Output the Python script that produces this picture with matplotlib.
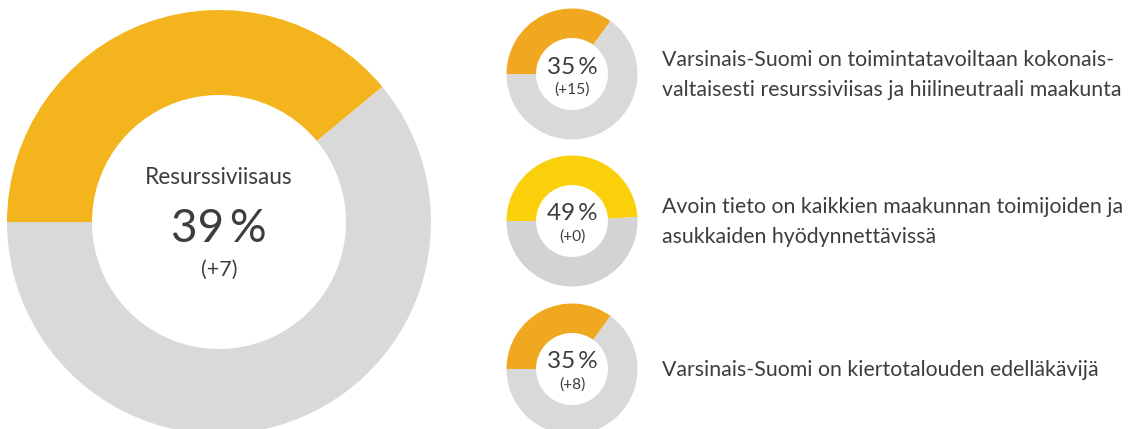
import matplotlib
matplotlib.use("Agg")
import matplotlib.pyplot as plt

W, H = 1132, 429
DPI = 100

# ---- data ----
main_label = "Resurssiviisaus"
main_value = 39
main_change = 7
main_colors = ["#F4B41E", "#D9D9D8"]

goal_labels = [
    "Varsinais-Suomi on toimintatavoiltaan kokonais-\nvaltaisesti resurssiviisas ja hiilineutraali maakunta",
    "Avoin tieto on kaikkien maakunnan toimijoiden ja\nasukkaiden hyödynnettävissä",
    "Varsinais-Suomi on kiertotalouden edelläkävijä",
]
goal_values = [35, 49, 35]
goal_changes = [15, 0, 8]
goal_fill_colors = ["#F0A820", "#FAD00A", "#F0A820"]
goal_rest_colors = ["#D9D9D8", "#D2D3D2", "#D9D9D8"]

TEXT = "#3D3D3D"
FONT = ["Lato", "DejaVu Sans"]

fig = plt.figure(figsize=(W / DPI, H / DPI), dpi=DPI)
ax = fig.add_axes([0, 0, 1, 1])


def donut(value, colors, cx, cy, R, r):
    ax.pie([value, 100 - value], colors=colors, startangle=180, counterclock=False,
           radius=R, center=(cx, H - cy),
           wedgeprops=dict(width=R - r, linewidth=0, edgecolor="none"))


# big donut
bcx, bcy, bR, br = 219, 222, 212, 127
donut(main_value, main_colors, bcx, bcy, bR, br)
ax.text(bcx, H - 177, main_label, ha="center", va="center", fontsize=16.3,
        color=TEXT, family=FONT)
ax.text(bcx, H - 229, f"{main_value}\u2009%", ha="center", va="center", fontsize=33,
        color=TEXT, family=FONT)
ax.text(bcx, H - 270, f"(+{main_change})", ha="center", va="center", fontsize=15.5,
        color=TEXT, family=FONT)

# small donuts
scx, sR, sr = 572, 65.5, 36
centers_y = [74, 221, 369]
for i, (lab, v, ch) in enumerate(zip(goal_labels, goal_values, goal_changes)):
    cy = centers_y[i]
    donut(v, [goal_fill_colors[i], goal_rest_colors[i]], scx, cy, sR, sr)
    ax.text(scx, H - (cy - 7), f"{v}\u2009%", ha="center", va="center", fontsize=17.5,
            color=TEXT, family=FONT)
    ax.text(scx, H - (cy + 16), f"(+{ch})", ha="center", va="center", fontsize=11.2,
            color=TEXT, family=FONT)
    ax.text(662, H - (cy + 1), lab, ha="left", va="center", fontsize=15.3,
            color=TEXT, family=FONT, linespacing=1.62)

ax.set_xlim(0, W)
ax.set_ylim(0, H)
ax.set_aspect("equal")
ax.axis("off")

fig.savefig("out.png", dpi=DPI, facecolor="white")
